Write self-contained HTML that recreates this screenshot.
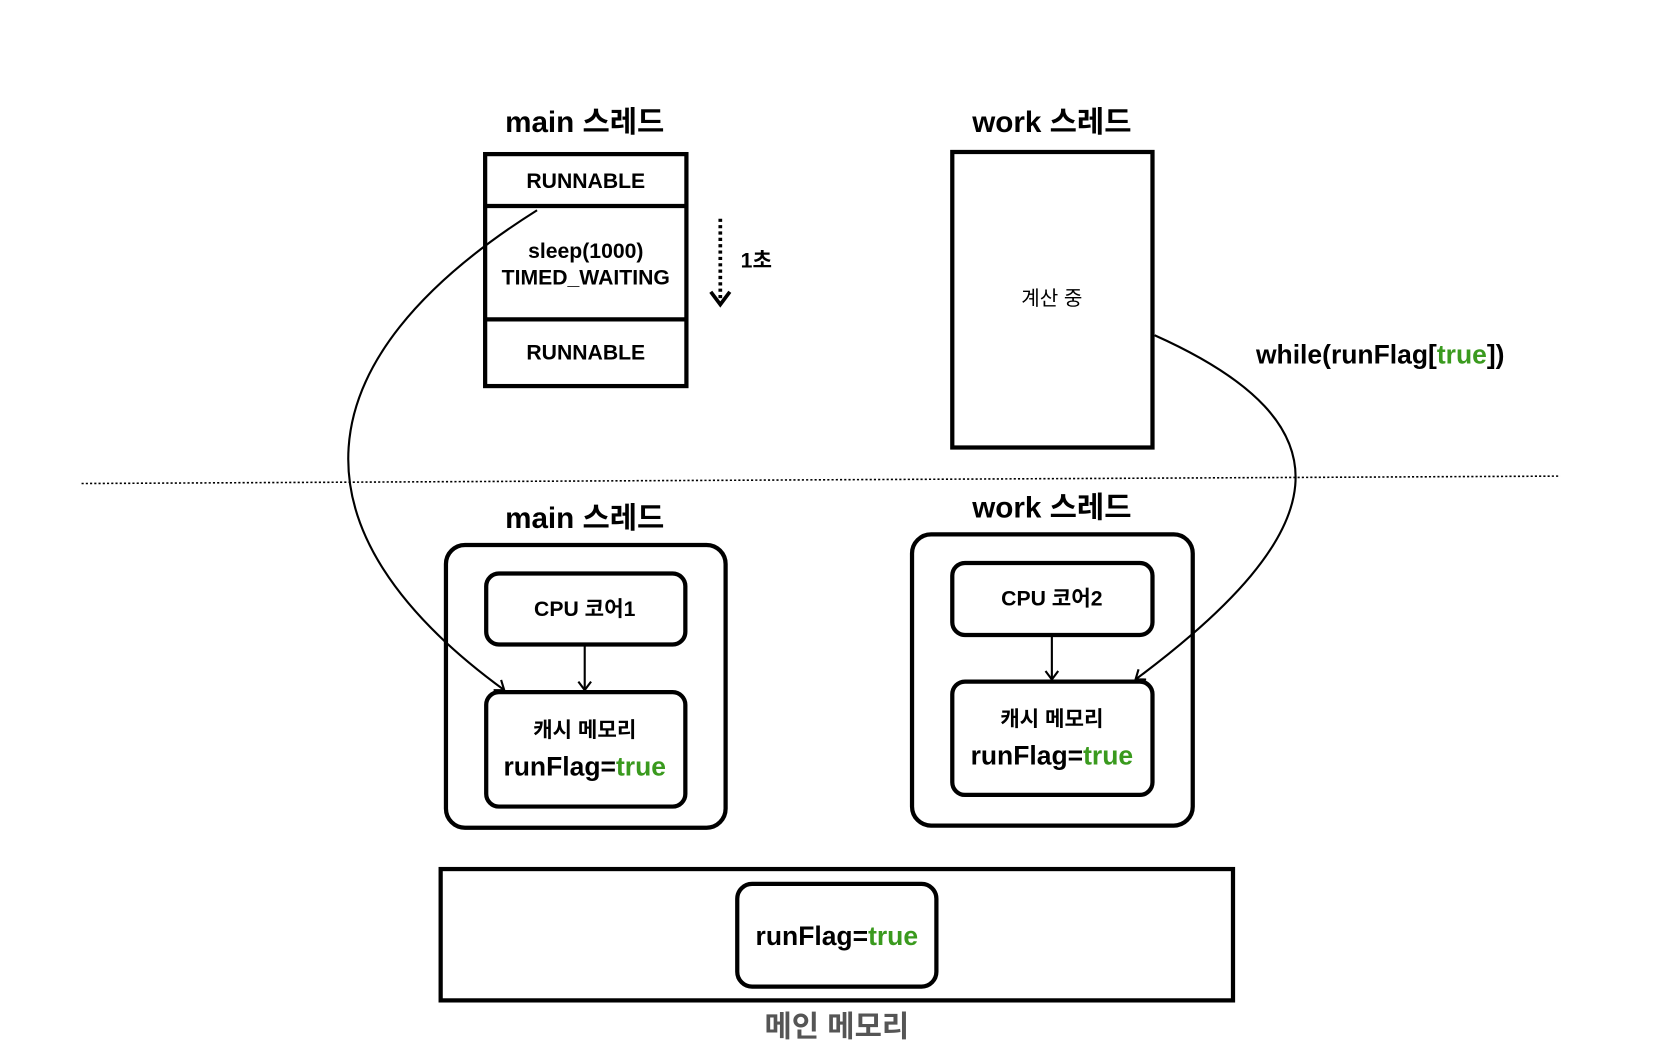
<!DOCTYPE html>
<html><head><meta charset="utf-8"><style>
html,body{margin:0;padding:0;background:#fff;width:1662px;height:1056px;overflow:hidden}
svg{display:block}
text{font-family:"Liberation Sans","Noto Sans CJK KR",sans-serif;text-anchor:middle;dominant-baseline:central}
.t{font-size:28px;font-weight:bold}
.s{font-size:20px;font-weight:bold}
.r{font-size:25px;font-weight:bold}
.g{fill:#3a9a1e}
</style></head><body>
<svg width="1662" height="1056" viewBox="0 0 1569 997" preserveAspectRatio="none">
<defs><marker id="a" markerWidth="14" markerHeight="14" refX="10" refY="7" orient="auto" markerUnits="userSpaceOnUse"><path d="M2,1 L10,7 L2,13" fill="none" stroke="#000" stroke-width="2"/></marker>
<marker id="b" markerWidth="24" markerHeight="24" refX="16" refY="12" orient="auto" markerUnits="userSpaceOnUse"><path d="M4,3 L16,12 L4,21" fill="none" stroke="#000" stroke-width="3.5"/></marker></defs>
<g transform="translate(0,1.5)">
<g fill="none" stroke="#000">
<rect x="458" y="144" width="190" height="219" stroke-width="4"/>
<line x1="458" y1="193" x2="648" y2="193" stroke-width="4"/>
<line x1="458" y1="300" x2="648" y2="300" stroke-width="4"/>
<line x1="680" y1="205" x2="680" y2="286" stroke-width="3.5" stroke-dasharray="3,3" marker-end="url(#b)"/>
<rect x="899" y="142" width="189" height="279" stroke-width="4"/>
<line x1="77" y1="455" x2="1473" y2="448" stroke-width="1.5" stroke-dasharray="2,2"/>
<rect x="421" y="513" width="264" height="267" rx="18" stroke-width="4"/>
<rect x="459" y="540" width="188" height="67" rx="12" stroke-width="4"/>
<rect x="459" y="652" width="188" height="108" rx="12" stroke-width="4"/>
<line x1="552" y1="608" x2="552" y2="650" stroke-width="2" marker-end="url(#a)"/>
<rect x="861" y="503" width="265" height="275" rx="18" stroke-width="4"/>
<rect x="899" y="530" width="189" height="68" rx="12" stroke-width="4"/>
<rect x="899" y="642" width="189" height="107" rx="12" stroke-width="4"/>
<line x1="993" y1="599" x2="993" y2="640" stroke-width="2" marker-end="url(#a)"/>
<rect x="416" y="819" width="748" height="124" stroke-width="4"/>
<rect x="696" y="833" width="188" height="97" rx="14" stroke-width="4"/>
<path d="M507,197 C280,340 270,500 476,650" stroke-width="2" marker-end="url(#a)"/>
<path d="M1090,315 C1280,400 1260,500 1072,640" stroke-width="2" marker-end="url(#a)"/>
</g>
<text class="t" x="552" y="114">main 스레드</text>
<text class="s" x="553" y="170">RUNNABLE</text>
<text class="s" x="553" y="236">sleep(1000)</text>
<text class="s" x="553" y="261">TIMED_WAITING</text>
<text class="s" x="553" y="332">RUNNABLE</text>
<text class="s" x="714" y="245">1초</text>
<text class="t" x="993" y="114">work 스레드</text>
<text x="993" y="281" font-size="19">계산 중</text>
<text class="r" x="1303" y="333">while(runFlag[<tspan class="g">true</tspan>])</text>
<text class="t" x="552" y="488">main 스레드</text>
<text class="s" x="552" y="574" font-size="22">CPU 코어1</text>
<text class="s" x="552" y="688" font-size="22">캐시 메모리</text>
<text class="r" x="552" y="722">runFlag=<tspan class="g">true</tspan></text>
<text class="t" x="993" y="478">work 스레드</text>
<text class="s" x="993" y="564" font-size="22">CPU 코어2</text>
<text class="s" x="993" y="678" font-size="22">캐시 메모리</text>
<text class="r" x="993" y="712">runFlag=<tspan class="g">true</tspan></text>
<text class="r" x="790" y="882">runFlag=<tspan class="g">true</tspan></text>
<text class="t" x="790" y="968" fill="#555" font-size="26">메인 메모리</text>
</g>
</svg>
</body></html>
